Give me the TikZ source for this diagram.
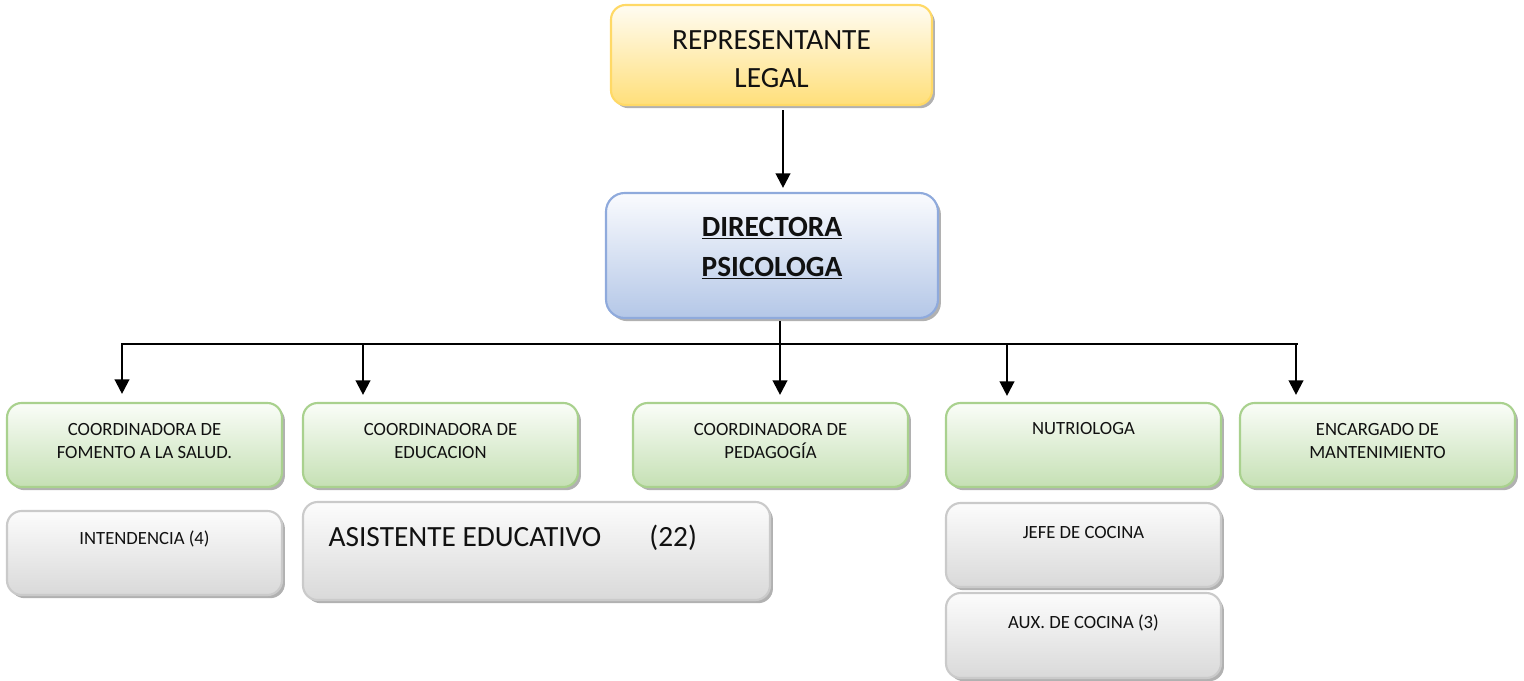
\documentclass[tikz,border=0pt]{standalone}
\usepackage{fontspec}
\setmainfont{Carlito}
\usetikzlibrary{shadows,calc,arrows.meta}
\definecolor{ybord}{HTML}{FFD966}
\definecolor{ybot}{HTML}{FFDF7A}
\definecolor{ytop}{HTML}{FFFCF2}
\definecolor{bbord}{HTML}{8FAADC}
\definecolor{bbot}{HTML}{B4C7E7}
\definecolor{btop}{HTML}{FAFBFE}
\definecolor{gbord}{HTML}{A9D18E}
\definecolor{gbot}{HTML}{C5E0B4}
\definecolor{gtop}{HTML}{FAFDF8}
\definecolor{kbord}{HTML}{CACACA}
\definecolor{kbot}{HTML}{D9D9D9}
\definecolor{ktop}{HTML}{FCFCFC}
\definecolor{shad}{HTML}{9E9E9E}
\definecolor{txtc}{HTML}{111111}
\tikzset{
  basebox/.style={draw, line width=1.6pt, rounded corners=11pt, inner sep=0pt,
    drop shadow={shadow xshift=2.2pt, shadow yshift=-2.4pt, fill=shad, opacity=0.8}},
  yellowbox/.style={basebox, draw=ybord, top color=ytop, bottom color=ybot},
  bluebox/.style={basebox, draw=bbord, top color=btop, bottom color=bbot, rounded corners=14pt},
  greenbox/.style={basebox, draw=gbord, top color=gtop, bottom color=gbot},
  greybox/.style={basebox, draw=kbord, top color=ktop, bottom color=kbot},
  bigtxt/.style={text=txtc, align=center, font=\fontsize{22}{28.5}\selectfont},
  smalltxt/.style={text=txtc, align=center, font=\fontsize{14}{17.25}\selectfont},
  midtxt/.style={text=txtc, align=center, font=\fontsize{14}{17.25}\selectfont},
  arr/.style={line width=1.7pt, -{Triangle[width=11pt,length=11pt]}},
  busline/.style={line width=1.6pt},
}
\begin{document}
\begin{tikzpicture}[x=0.75pt,y=-0.75pt]
\useasboundingbox (0,0) rectangle (1524,681);
% boxes
\node[yellowbox, minimum width=240.75pt, minimum height=75pt] (rep) at (771.5,55) {};
\node[bluebox, minimum width=249pt, minimum height=93.75pt] (dir) at (772,255.5) {};
\node[greenbox, minimum width=206.25pt, minimum height=63pt] (g1) at (144.5,445) {};
\node[greenbox, minimum width=206.25pt, minimum height=63pt] (g2) at (440.5,445) {};
\node[greenbox, minimum width=206.25pt, minimum height=63pt] (g3) at (770.5,445) {};
\node[greenbox, minimum width=206.25pt, minimum height=63pt] (g4) at (1083.5,445) {};
\node[greenbox, minimum width=206.25pt, minimum height=63pt] (g5) at (1377.5,445) {};
\node[greybox, minimum width=206.25pt, minimum height=63pt] (int) at (144.5,553) {};
\node[greybox, minimum width=350.25pt, minimum height=73.5pt] (asis) at (536.5,551) {};
\node[greybox, minimum width=206.25pt, minimum height=63pt] (jefe) at (1083.5,545) {};
\node[greybox, minimum width=206.25pt, minimum height=63.75pt] (aux) at (1083.5,635.5) {};
% texts
\node[bigtxt] (trep) at ($(rep.north)+(0,55)$) {REPRESENTANTE\\LEGAL};
\node[bigtxt, font=\fontsize{22}{30}\selectfont\bfseries] (tdir) at ($(dir.north)+(0,56)$) {\underline{DIRECTORA}\\\underline{PSICOLOGA}};
\node[smalltxt] (tg1) at ($(g1.north)+(0,39)$) {COORDINADORA DE\\FOMENTO A LA SALUD.};
\node[smalltxt] (tg2) at ($(g2.north)+(0,39)$) {COORDINADORA DE\\EDUCACION};
\node[smalltxt] (tg3) at ($(g3.north)+(0,39)$) {COORDINADORA DE\\PEDAGOGÍA};
\node[smalltxt] (tg4) at ($(g4.north)+(0,27)$) {NUTRIOLOGA};
\node[smalltxt] (tg5) at ($(g5.north)+(0,39)$) {ENCARGADO DE\\MANTENIMIENTO};
\node[midtxt] (tint) at ($(int.north)+(0,29)$) {INTENDENCIA (4)};
\node[bigtxt, anchor=west] (tasis) at ($(asis.north west)+(22,37)$) {ASISTENTE EDUCATIVO\hspace{36pt}(22)};
\node[midtxt] (tjefe) at ($(jefe.north)+(0,31)$) {JEFE DE COCINA};
\node[midtxt] (taux) at ($(aux.north)+(0,31)$) {AUX. DE COCINA (3)};
% connectors
\coordinate (top) at (783,110);
\draw[arr] (rep.south -| top) ++(0,4) -- ($(dir.north -| top)+(0,-4)$);
\coordinate (bus) at (780,344);
\coordinate (bl) at (121,344);
\coordinate (br) at (1298,344);
\draw[busline] ($(dir.south -| bus)+(0,2)$) -- (bus);
\draw[busline] (bl) -- (br);
\coordinate (b1) at (122,344);
\coordinate (b2) at (363,344);
\coordinate (b3) at (780,344);
\coordinate (b4) at (1007,344);
\coordinate (b5) at (1296,344);
\draw[arr] (b1) -- ($(g1.north -| b1)+(0,-8)$);
\draw[arr] (b2) -- ($(g2.north -| b2)+(0,-7)$);
\draw[arr] (b3) -- ($(g3.north -| b3)+(0,-7)$);
\draw[arr] (b4) -- ($(g4.north -| b4)+(0,-6)$);
\draw[arr] (b5) -- ($(g5.north -| b5)+(0,-7)$);
\end{tikzpicture}
\end{document}
